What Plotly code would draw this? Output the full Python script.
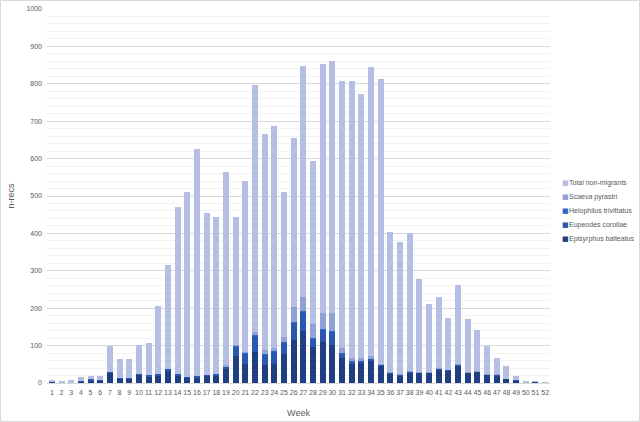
import plotly.graph_objects as go

weeks = list(range(1, 53))

episyrphus = [3, 2, 1, 5, 8, 6, 27, 11, 11, 22, 18, 20, 33, 21, 15, 15, 19, 20, 40, 71,
              52, 84, 47, 52, 78, 115, 140, 95, 110, 102, 68, 52, 55, 60, 47, 25, 21, 29, 27, 27,
              36, 33, 47, 27, 30, 22, 20, 11, 8, 0, 4, 0]
eupeodes = [1, 0, 0, 1, 2, 1, 3, 2, 2, 3, 3, 3, 4, 3, 2, 3, 3, 3, 5, 27,
            28, 42, 30, 33, 30, 48, 52, 23, 33, 37, 10, 5, 3, 5, 2, 2, 2, 2, 2, 2,
            2, 2, 2, 2, 2, 2, 2, 1, 1, 0, 0, 0]
helophilus = [0, 0, 0, 0, 0, 0, 0, 0, 0, 0, 0, 0, 0, 0, 0, 0, 0, 0, 0, 1,
              1, 2, 1, 1, 1, 1, 1, 1, 1, 1, 1, 1, 0, 0, 0, 0, 0, 0, 0, 0,
              0, 0, 0, 0, 0, 0, 0, 0, 0, 0, 0, 0]
scaeva = [0, 0, 0, 0, 0, 0, 0, 0, 0, 0, 0, 0, 0, 0, 0, 0, 0, 0, 2, 2,
          3, 8, 10, 8, 13, 40, 36, 40, 42, 48, 14, 9, 9, 6, 3, 3, 2, 1, 1, 1,
          1, 1, 1, 1, 1, 1, 1, 0, 0, 0, 0, 0]
non_migrants = [4, 4, 8, 9, 9, 12, 70, 50, 52, 77, 85, 182, 278, 446, 493, 607, 433, 422, 516, 344,
                456, 661, 577, 594, 388, 451, 618, 434, 666, 674, 715, 741, 706, 774, 760, 373, 352, 368, 247, 180,
                191, 137, 212, 140, 109, 75, 44, 33, 11, 3, 1, 1]

series = [
    ("Episyrphus balteatus", episyrphus, "#203e82"),
    ("Eupeodes corollae", eupeodes, "#2a58b0"),
    ("Helophilus trivittatus", helophilus, "#2f68cc"),
    ("Scaeva pyrastri", scaeva, "#8fa1d7"),
    ("Total non-migrants", non_migrants, "#b4bfe3"),
]

FONT = "Liberation Sans, Arial, sans-serif"
GREY = "#595959"

# plot area in pixels (Excel-style layout)
L, R, T, B = 47, 90, 9, 39
PW, PH = 640 - L - R, 422 - T - B

fig = go.Figure()
for name, vals, color in series:
    fig.add_trace(go.Bar(x=weeks, y=vals, name=name, marker_color=color,
                         marker_line_width=0, showlegend=False))

# compact legend, top entry = last trace
annotations = []
legend_y = [182.7, 196.7, 210.8, 224.9, 239]
for (name, _, color), py in zip(reversed(series), legend_y):
    yy = (422 - B - py) / PH
    annotations.append(dict(xref="paper", yref="paper", x=(560 - L) / PW, y=yy,
                            text="■", showarrow=False, xanchor="left", yanchor="middle",
                            font=dict(family="DejaVu Sans", size=7, color=color)))
    annotations.append(dict(xref="paper", yref="paper", x=(567 - L) / PW, y=yy,
                            text=name, showarrow=False, xanchor="left", yanchor="middle",
                            font=dict(family=FONT, size=7, color=GREY)))

fig.update_layout(
    barmode="stack",
    bargap=0.38,
    width=640,
    height=422,
    margin=dict(l=L, r=R, t=T, b=B, autoexpand=False),
    paper_bgcolor="white",
    plot_bgcolor="white",
    font=dict(family=FONT, size=7, color=GREY),
    xaxis=dict(
        title=dict(text="Week", font=dict(size=9, color=GREY), standoff=14),
        tickmode="linear",
        tick0=1,
        dtick=1,
        range=[0.5, 52.5],
        tickfont=dict(size=7, color=GREY),
        showline=True,
        linecolor="#d9d9d9",
        ticks="",
        ticklen=0,
        ticklabelstandoff=3,
        tickangle=0,
        showgrid=False,
        automargin=False,
    ),
    yaxis=dict(
        title=dict(text="n-recs", font=dict(size=9, color=GREY), standoff=10),
        range=[0, 1000],
        dtick=100,
        gridcolor="#d9d9d9",
        gridwidth=1,
        zeroline=False,
        ticks="",
        ticklen=0,
        tickfont=dict(size=7, color=GREY),
        ticklabelstandoff=4,
        minor=dict(dtick=20, showgrid=True, gridcolor="#f2f2f2"),
        automargin=False,
    ),
    annotations=annotations,
    shapes=[
        dict(type="rect", xref="paper", yref="paper",
             x0=-(L - 0.5) / PW, x1=(640 - L - 0.5) / PW,
             y0=-(B - 0.5) / PH, y1=(422 - B - 0.5) / PH,
             line=dict(color="#d9d9d9", width=1), fillcolor="rgba(0,0,0,0)"),
    ],
)

fig.write_html("out.html", config={"displayModeBar": False},
               post_script="document.body.style.margin='0';")
